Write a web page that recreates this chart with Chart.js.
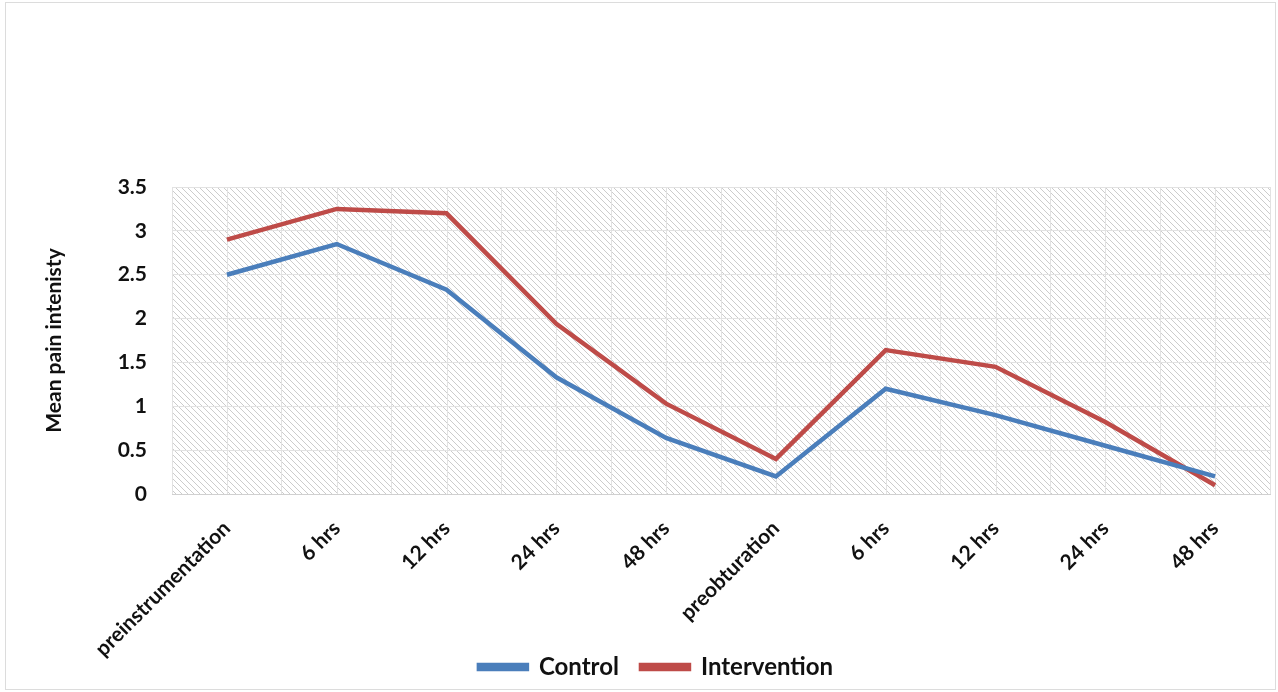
<!DOCTYPE html>
<html>
<head>
<meta charset="utf-8">
<script src="https://cdn.jsdelivr.net/npm/chart.js@4/dist/chart.umd.min.js"></script>
<style>
  html, body { margin: 0; padding: 0; background: #fff; }
  #frame { position: absolute; left: 5px; top: 2px; width: 1271px; height: 688px; border: 1.5px solid #dcdcdc; box-sizing: border-box; }
  #wrap { position: absolute; left: 0; top: 0; width: 1278px; height: 692px; }
</style>
</head>
<body>
<div id="frame"></div>
<div id="wrap"><canvas id="chartDurere"></canvas></div>
<script>
// momente de masurare
var categorii = ["preinstrumentation", "6 hrs", "12 hrs", "24 hrs", "48 hrs",
                 "preobturation", "6 hrs", "12 hrs", "24 hrs", "48 hrs"];
var valoriControl = [2.5, 2.85, 2.33, 1.33, 0.64, 0.2, 1.2, 0.9, 0.55, 0.2];
var valoriInterventie = [2.9, 3.25, 3.2, 1.94, 1.03, 0.4, 1.64, 1.45, 0.82, 0.1];
var tickuriY = [0, 0.5, 1, 1.5, 2, 2.5, 3, 3.5];

var culoareControl = '#4a7ebb';
var culoareInterventie = '#be4b48';
var fontText = 'Lato, "Liberation Sans", sans-serif';

// textura hasurata ca in Excel
function hasura() {
    var c = document.createElement('canvas');
    c.width = 6; c.height = 6;
    var g = c.getContext('2d');
    g.fillStyle = '#ffffff';
    g.fillRect(0, 0, 6, 6);
    g.strokeStyle = '#cccccc';
    g.lineWidth = 1;
    g.beginPath();
    g.moveTo(-1, -1); g.lineTo(7, 7);
    g.moveTo(-1, 5); g.lineTo(1, 7);
    g.moveTo(5, -1); g.lineTo(7, 1);
    g.stroke();
    return g.createPattern(c, 'repeat');
}

var fundalPlugin = {
    id: 'fundal',
    afterLayout: function (chart) {
        // etichetele rotite nu trebuie taiate jos
        chart.scales.x.bottom = chart.height;
    },
    beforeDraw: function (chart) {
        var ctx = chart.ctx, a = chart.chartArea;
        ctx.save();
        ctx.fillStyle = hasura();
        ctx.fillRect(a.left, a.top, a.right - a.left, a.bottom - a.top);
        // linii verticale si prin centrul categoriilor
        var sx = chart.scales.x;
        ctx.strokeStyle = '#e2e2e2';
        ctx.lineWidth = 1;
        for (var i = 0; i < categorii.length; i++) {
            var px = Math.round(sx.getPixelForValue(i)) + 0.5;
            ctx.beginPath();
            ctx.moveTo(px, a.top);
            ctx.lineTo(px, a.bottom);
            ctx.stroke();
        }
        ctx.restore();
    }
};

var ctx1 = document.getElementById('chartDurere').getContext('2d');
var chartDurere = new Chart(ctx1, {
    type: 'line',
    data: {
        labels: categorii,
        datasets: [{
            label: 'Control',
            data: valoriControl,
            borderColor: culoareControl,
            backgroundColor: culoareControl,
            borderWidth: 4.5,
            pointRadius: 0,
            tension: 0
        }, {
            label: 'Intervention',
            data: valoriInterventie,
            borderColor: culoareInterventie,
            backgroundColor: culoareInterventie,
            borderWidth: 4.5,
            pointRadius: 0,
            tension: 0
        }]
    },
    options: {
        responsive: true,
        maintainAspectRatio: false,
        animation: false,
        layout: { padding: { left: 42, right: 8, top: 187, bottom: 3 } },
        plugins: {
            legend: {
                position: 'bottom',
                labels: {
                    boxWidth: 48,
                    boxHeight: 4,
                    color: '#111',
                    padding: 22,
                    font: { family: fontText, size: 24, weight: 'bold', lineHeight: 0.5 }
                }
            },
            tooltip: { enabled: false }
        },
        scales: {
            x: {
                offset: true,
                grid: { color: '#e2e2e2', offset: true, drawTicks: false },
                border: { color: '#d0d0d0' },
                ticks: {
                    minRotation: 45,
                    maxRotation: 45,
                    color: '#111',
                    padding: 22,
                    font: { family: fontText, size: 21, weight: 'bold' }
                },
                afterFit: function (axis) {
                    // etichetele rotite pot iesi spre stanga, ca in original
                    axis.paddingLeft = 0;
                    axis.paddingRight = 0;
                    axis.height = 139;
                }
            },
            y: {
                min: 0,
                max: 3.5,
                afterBuildTicks: function (axis) {
                    axis.ticks = tickuriY.map(function (v) { return { value: v }; });
                },
                afterFit: function (axis) {
                    axis.width = 130;
                },
                grid: { color: '#e2e2e2', drawTicks: false },
                border: { display: false },
                title: {
                    display: true,
                    text: 'Mean pain intenisty',
                    color: '#111',
                    padding: { top: 0, bottom: 40 },
                    font: { family: fontText, size: 21, weight: 'bold' }
                },
                ticks: {
                    color: '#111',
                    padding: 25,
                    font: { family: fontText, size: 21, weight: 'bold' },
                    callback: function (v) { return String(v); }
                }
            }
        }
    },
    plugins: [fundalPlugin]
});
</script>
</body>
</html>
